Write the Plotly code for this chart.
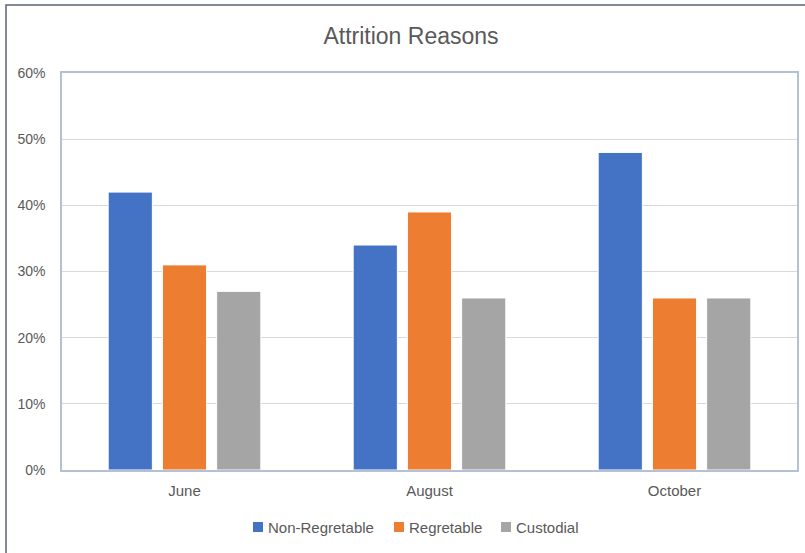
import plotly.graph_objects as go

categories = ["June", "August", "October"]
non_regretable = [0.42, 0.34, 0.48]
regretable = [0.31, 0.39, 0.26]
custodial = [0.27, 0.26, 0.26]
series_names = ["Non-Regretable", "Regretable", "Custodial"]
colors = ["#4472C4", "#ED7D31", "#A5A5A5"]
y_ticks = [0, 0.1, 0.2, 0.3, 0.4, 0.5, 0.6]
y_tick_labels = ["0%", "10%", "20%", "30%", "40%", "50%", "60%"]

FONT = "Liberation Sans"
TXT = "#595959"

fig = go.Figure()
for name, vals, col in zip(series_names, [non_regretable, regretable, custodial], colors):
    fig.add_trace(go.Bar(
        x=categories, y=vals, name=name, showlegend=False,
        marker=dict(color=col, line=dict(color="white", width=1)),
    ))

W, H = 805, 553
L, R, T, B = 62, 8, 73, 83
pw = W - L - R
ph = H - T - B


def px_x(x):
    return (x - L) / pw


def px_y(y):
    return (ph - (y - T)) / ph


fig.update_layout(
    width=W, height=H,
    margin=dict(l=L, r=R, t=T, b=B, autoexpand=False),
    paper_bgcolor="white", plot_bgcolor="white",
    barmode="group", bargap=0.336, bargroupgap=0.185,
    title=dict(text="Attrition Reasons", xref="paper", x=px_x(411), xanchor="center",
               y=1 - 36 / H, yanchor="middle",
               font=dict(family=FONT, size=23, color=TXT)),
    font=dict(family=FONT, color=TXT, size=14),
    showlegend=False,
    xaxis=dict(showline=True, mirror=True, linecolor="#B4C0D4", linewidth=1.5,
               ticks="", tickfont=dict(family=FONT, size=15, color=TXT),
               ticklabelstandoff=6,
               showgrid=False, fixedrange=True),
    yaxis=dict(range=[0, 0.6], tickvals=y_ticks, ticktext=y_tick_labels,
               showline=True, mirror=True, linecolor="#B4C0D4", linewidth=1.5,
               showgrid=True, gridcolor="#D9D9D9", gridwidth=1,
               zeroline=False, ticks="", ticklabelstandoff=12,
               tickfont=dict(family=FONT, size=14, color=TXT), fixedrange=True),
)

# legend (drawn as layout items, Excel style: small square + label)
legend_square_x = [253, 394, 501]
legend_y = 527
sq = 10
for name, col, sx in zip(series_names, colors, legend_square_x):
    fig.add_shape(type="rect", xref="paper", yref="paper",
                  x0=px_x(sx), x1=px_x(sx + sq),
                  y0=px_y(legend_y + sq / 2), y1=px_y(legend_y - sq / 2),
                  line=dict(width=0), fillcolor=col)
    fig.add_annotation(text=name, xref="paper", yref="paper",
                       x=px_x(sx + sq + 3), y=px_y(legend_y),
                       xanchor="left", yanchor="middle", showarrow=False,
                       font=dict(family=FONT, size=15, color=TXT))

fig.add_shape(type="rect", xref="paper", yref="paper",
              x0=px_x(6), x1=1.2, y0=-0.5, y1=px_y(5),
              line=dict(color="#5B6475", width=1.5), fillcolor="rgba(0,0,0,0)",
              layer="above")

fig.write_html("out.html")
